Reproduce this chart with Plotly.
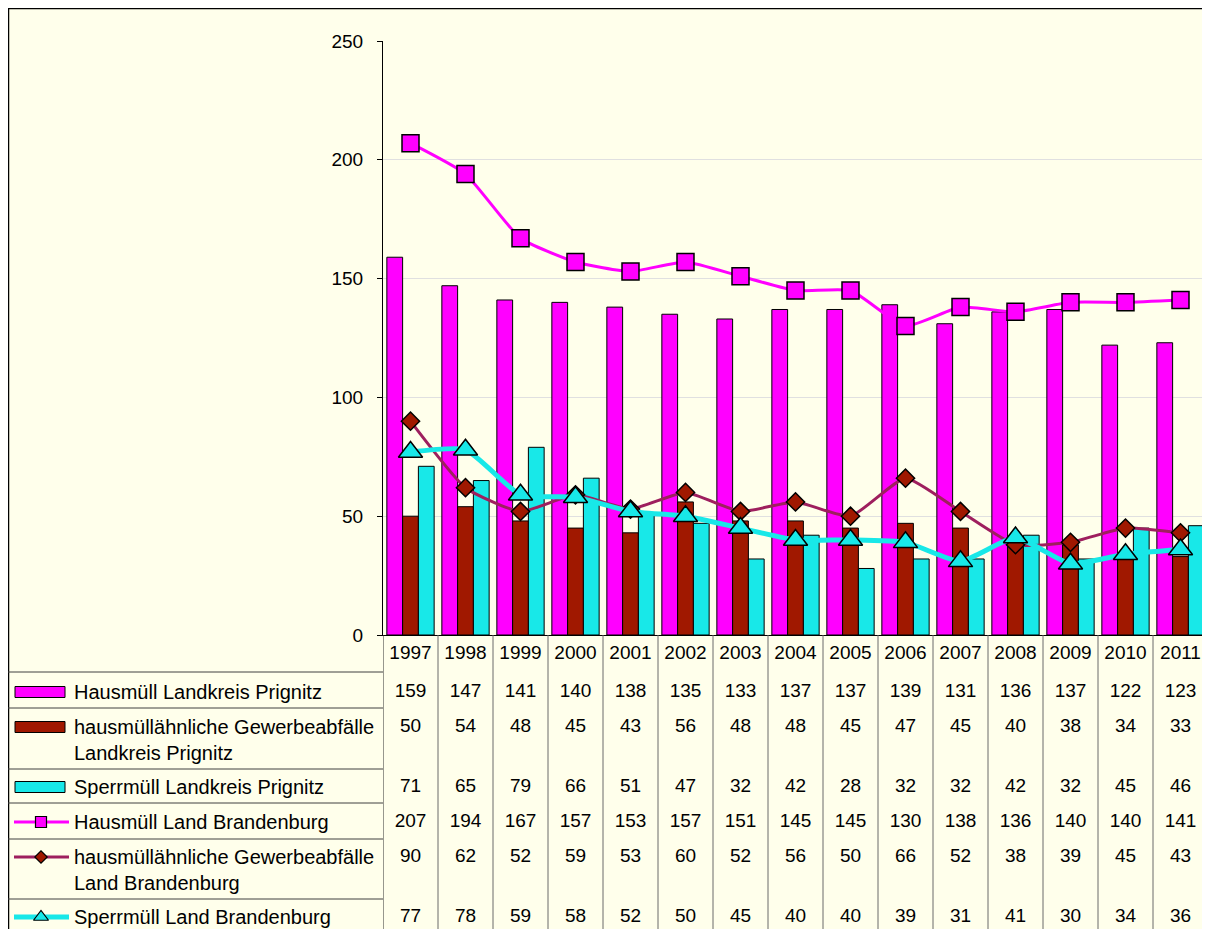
import plotly.graph_objects as go

years = [1997, 1998, 1999, 2000, 2001, 2002, 2003, 2004, 2005, 2006, 2007, 2008, 2009, 2010, 2011]
hausmuell_lp = [159, 147, 141, 140, 138, 135, 133, 137, 137, 139, 131, 136, 137, 122, 123]
gewerbe_lp = [50, 54, 48, 45, 43, 56, 48, 48, 45, 47, 45, 40, 38, 34, 33]
sperr_lp = [71, 65, 79, 66, 51, 47, 32, 42, 28, 32, 32, 42, 32, 45, 46]
hausmuell_bb = [207, 194, 167, 157, 153, 157, 151, 145, 145, 130, 138, 136, 140, 140, 141]
gewerbe_bb = [90, 62, 52, 59, 53, 60, 52, 56, 50, 66, 52, 38, 39, 45, 43]
sperr_bb = [77, 78, 59, 58, 52, 50, 45, 40, 40, 39, 31, 41, 30, 34, 36]

labels = [
    "Hausmüll Landkreis Prignitz",
    "hausmüllähnliche Gewerbeabfälle<br>Landkreis Prignitz",
    "Sperrmüll Landkreis Prignitz",
    "Hausmüll Land Brandenburg",
    "hausmüllähnliche Gewerbeabfälle<br>Land Brandenburg",
    "Sperrmüll Land Brandenburg",
]
series = [hausmuell_lp, gewerbe_lp, sperr_lp, hausmuell_bb, gewerbe_bb, sperr_bb]

MAGENTA = "#FF00FF"
DARKRED = "#A01800"
CYAN = "#18E8E8"
PLUM = "#9E1F5E"
BG = "#FFFFEB"
FONT = "Liberation Sans, Arial, sans-serif"

# page body has an 8px margin: figure pixels = screen pixels - OFF
OFF = 8
W, H = 1210 - OFF, 929 - OFF
PL, PR, PT, PB = 383 - OFF, 1208 - OFF, 41 - OFF, 635 - OFF
TABLE_H = H - PB

fig = go.Figure()

bar_colors = [MAGENTA, DARKRED, CYAN]
for vals, col in zip(series[:3], bar_colors):
    fig.add_trace(go.Bar(x=years, y=vals, marker=dict(color=col, line=dict(color="black", width=1)),
                         xaxis="x", yaxis="y", hoverinfo="skip"))

line_specs = [
    (hausmuell_bb, MAGENTA, 3, "square", 17, MAGENTA),
    (gewerbe_bb, PLUM, 3, "diamond", 14, DARKRED),
    (sperr_bb, CYAN, 5, "triangle-up", 21, CYAN),
]
for vals, lc, lw, sym, sz, fc in line_specs:
    fig.add_trace(go.Scatter(x=years, y=vals, mode="lines+markers",
                             line=dict(color=lc, width=lw, shape="spline", smoothing=0.5),
                             marker=dict(symbol=sym, size=sz, color=fc, line=dict(color="black", width=1.5)),
                             xaxis="x", yaxis="y", hoverinfo="skip"))

# table layout (y2 = pixel offset below plot bottom)
row_bounds = [0, 37, 73, 134, 168, 204, 264, 300]
header_y = 19
row_y = [57, 92, 152, 187, 222, 282]
label_y = [57, 105, 152, 187, 235, 282]

fig.add_trace(go.Scatter(x=years, y=[header_y] * len(years), mode="text",
                         text=[str(y) for y in years], textfont=dict(size=19, color="black", family=FONT),
                         xaxis="x2", yaxis="y2", hoverinfo="skip"))
for vals, yv in zip(series, row_y):
    fig.add_trace(go.Scatter(x=years, y=[yv] * len(years), mode="text",
                             text=[str(v) for v in vals], textfont=dict(size=19, color="black", family=FONT),
                             xaxis="x2", yaxis="y2", hoverinfo="skip"))

shapes = []
# outer background + frame
shapes.append(dict(type="rect", xref="paper", yref="paper", x0=0, x1=1.02, y0=-0.05, y1=1,
                   fillcolor=BG, line=dict(color="black", width=2.5), layer="below"))

# legend keys (x3 uses screen-like pixel units)
for i, col in enumerate(bar_colors):
    yc = row_y[i]
    shapes.append(dict(type="rect", xref="x3", yref="y2", x0=15, x1=65, y0=yc - 5.5, y1=yc + 5.5,
                       fillcolor=col, line=dict(color="black", width=1)))
key_markers = [("square", 11, MAGENTA, MAGENTA, 3), ("diamond", 9.5, DARKRED, PLUM, 3), ("triangle-up", 13, CYAN, CYAN, 5)]
for i, (sym, sz, fc, lc, lw) in enumerate(key_markers):
    yc = row_y[3 + i]
    fig.add_trace(go.Scatter(x=[14, 69], y=[yc, yc], mode="lines", line=dict(color=lc, width=lw),
                             xaxis="x3", yaxis="y2", hoverinfo="skip"))
    fig.add_trace(go.Scatter(x=[41], y=[yc], mode="markers",
                             marker=dict(symbol=sym, size=sz, color=fc, line=dict(color="black", width=1.2)),
                             xaxis="x3", yaxis="y2", hoverinfo="skip"))

# horizontal table lines
for yb in row_bounds[1:-1]:
    shapes.append(dict(type="line", xref="x3", yref="y2", x0=8, x1=383 + (PR - PL), y0=yb, y1=yb,
                       line=dict(color="#404040", width=1)))
# vertical table lines
for k in range(len(years) + 1):
    xb = years[0] - 0.5 + k
    shapes.append(dict(type="line", xref="x2", yref="y2", x0=xb, x1=xb, y0=0, y1=row_bounds[-1],
                       line=dict(color="#6a6a6a" if k else "#303030", width=1)))
# plot area right border
shapes.append(dict(type="line", xref="x", yref="y", x0=years[-1] + 0.5, x1=years[-1] + 0.5, y0=0, y1=250,
                   line=dict(color="#D8D8D8", width=1)))

annotations = []
for lab, yv in zip(labels, label_y):
    annotations.append(dict(text=lab, xref="x3", yref="y2", x=72, y=yv, xanchor="left", yanchor="middle",
                            align="left", showarrow=False, font=dict(size=20, color="black", family=FONT)))

xdom = [PL / W, PR / W]
fig.update_layout(
    template="none",
    width=W, height=H, margin=dict(l=0, r=0, t=0, b=0, pad=0, autoexpand=False),
    paper_bgcolor="white", plot_bgcolor="rgba(0,0,0,0)",
    showlegend=False, barmode="group", bargap=0.14, bargroupgap=0,
    font=dict(family=FONT, size=19, color="black"),
    xaxis=dict(domain=xdom, range=[years[0] - 0.5, years[-1] + 0.5], showticklabels=False, ticks="",
               showgrid=False, zeroline=False, showline=True, linecolor="black", linewidth=1, anchor="y",
               automargin=False),
    yaxis=dict(domain=[1 - PB / H, 1 - PT / H], range=[0, 250], tickvals=[0, 50, 100, 150, 200, 250],
               showgrid=True, gridcolor="#E0E0E0", gridwidth=1, zeroline=False,
               showline=True, linecolor="black", linewidth=1, ticks="outside", ticklen=5, tickcolor="black",
               ticklabelstandoff=10, tickfont=dict(size=19), anchor="x", automargin=False),
    xaxis2=dict(domain=xdom, range=[years[0] - 0.5, years[-1] + 0.5], visible=False, anchor="y2",
                automargin=False),
    yaxis2=dict(domain=[0, TABLE_H / H], range=[TABLE_H, 0], visible=False, anchor="x2", automargin=False),
    xaxis3=dict(domain=[0, PL / W], range=[OFF, 383], visible=False, anchor="y2", automargin=False),
    shapes=shapes, annotations=annotations,
)

fig.write_html("out.html")
